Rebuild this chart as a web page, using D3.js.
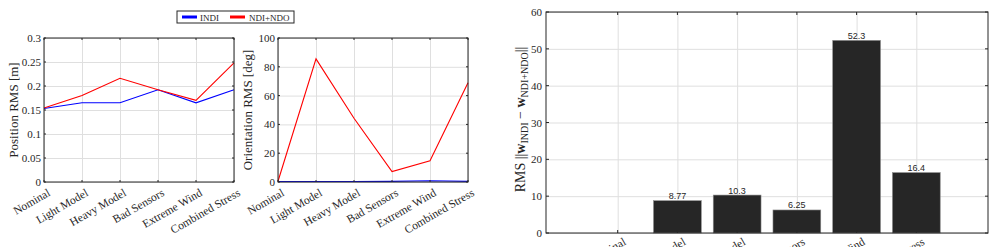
<!DOCTYPE html>
<html>
<head>
<meta charset="utf-8">
<script src="https://cdn.jsdelivr.net/npm/d3@7"></script>
<style>
  body { margin: 0; background: #fff; }
  svg text { font-family: "Liberation Serif", "DejaVu Serif", serif; fill: #262626; }
  .grid line { stroke: #dfdfdf; stroke-width: 1; }
  .grid path { display: none; }
  .frame { fill: none; stroke: #262626; stroke-width: 1; }
  .tick-m { stroke: #262626; stroke-width: 1; }
</style>
</head>
<body>
<div id="chart"></div>
<script>
// scenarios
var categories = ["Nominal", "Light Model", "Heavy Model", "Bad Sensors", "Extreme Wind", "Combined Stress"];

// position RMS [m]
var pos_indi = [0.153, 0.165, 0.165, 0.192, 0.165, 0.192];
var pos_ndi = [0.154, 0.180, 0.216, 0.192, 0.170, 0.248];
var pos_ticks = [0, 0.05, 0.1, 0.15, 0.2, 0.25, 0.3];

// orientation RMS [deg]
var ori_indi = [0.3, 0.3, 0.3, 0.4, 0.9, 0.4];
var ori_ndi = [0.5, 85.5, 44.3, 7.2, 14.8, 69.0];
var ori_ticks = [0, 20, 40, 60, 80, 100];

// RMS of command difference
var diff_vals = [0, 8.77, 10.3, 6.25, 52.3, 16.4];
var diff_labels = ["", "8.77", "10.3", "6.25", "52.3", "16.4"];
var diff_ticks = [0, 10, 20, 30, 40, 50, 60];

var W = 995, H = 247;
var svg = d3.select("#chart").append("svg")
  .attr("width", W).attr("height", H);

function line_panel(box, yMax, ticks, tickFmt, s1, s2, ylabel, ylabelX) {
  var x = d3.scalePoint().domain(categories).range([box.left, box.right]);
  var y = d3.scaleLinear().domain([0, yMax]).range([box.bottom, box.top]);
  var g = svg.append("g");
  var h = box.bottom - box.top, w = box.right - box.left;

  // grid
  g.append("g").attr("class", "grid")
    .attr("transform", "translate(0," + box.bottom + ")")
    .call(d3.axisBottom(x).tickSize(-h).tickFormat(""));
  g.append("g").attr("class", "grid")
    .attr("transform", "translate(" + box.left + ",0)")
    .call(d3.axisLeft(y).tickValues(ticks).tickSize(-w).tickFormat(""));

  // lines
  var ln = d3.line().x(function(d, i) { return x(categories[i]); }).y(function(d) { return y(d); });
  g.append("path").datum(s1).attr("d", ln)
    .attr("fill", "none").attr("stroke", "#0000ff").attr("stroke-width", 1.1);
  g.append("path").datum(s2).attr("d", ln)
    .attr("fill", "none").attr("stroke", "#ff0000").attr("stroke-width", 1.1);

  // frame + inward ticks
  g.append("rect").attr("class", "frame")
    .attr("x", box.left).attr("y", box.top).attr("width", w).attr("height", h);
  ticks.forEach(function(t) {
    g.append("line").attr("class", "tick-m")
      .attr("x1", box.left).attr("x2", box.left + 2).attr("y1", y(t)).attr("y2", y(t));
    g.append("line").attr("class", "tick-m")
      .attr("x1", box.right).attr("x2", box.right - 2).attr("y1", y(t)).attr("y2", y(t));
    g.append("text").attr("x", box.left - 3).attr("y", y(t) + 4)
      .attr("text-anchor", "end").attr("font-size", 11).text(tickFmt(t));
  });
  categories.forEach(function(c) {
    g.append("line").attr("class", "tick-m")
      .attr("x1", x(c)).attr("x2", x(c)).attr("y1", box.bottom).attr("y2", box.bottom - 2);
    g.append("line").attr("class", "tick-m")
      .attr("x1", x(c)).attr("x2", x(c)).attr("y1", box.top).attr("y2", box.top + 2);
    g.append("text")
      .attr("transform", "translate(" + (x(c) + 3) + "," + (box.bottom + 6) + ") rotate(-30)")
      .attr("text-anchor", "end").attr("dy", "0.7em").attr("font-size", 11.5).text(c);
  });

  g.append("text")
    .attr("transform", "translate(" + ylabelX + "," + ((box.top + box.bottom) / 2) + ") rotate(-90)")
    .attr("text-anchor", "middle").attr("font-size", 13).text(ylabel);
}

line_panel({left: 44, right: 234, top: 38, bottom: 182}, 0.3, pos_ticks,
  function(t) { return t === 0 ? "0" : String(t); }, pos_indi, pos_ndi, "Position RMS [m]", 18);
line_panel({left: 278, right: 468, top: 38, bottom: 182}, 100, ori_ticks,
  function(t) { return String(t); }, ori_indi, ori_ndi, "Orientation RMS [deg]", 252);

// legend
var lg = svg.append("g");
lg.append("rect").attr("x", 177).attr("y", 11).attr("width", 117).attr("height", 12)
  .attr("fill", "#fff").attr("stroke", "#262626").attr("stroke-width", 1);
lg.append("line").attr("x1", 182).attr("x2", 197).attr("y1", 17).attr("y2", 17)
  .attr("stroke", "#0000ff").attr("stroke-width", 3);
lg.append("text").attr("x", 200).attr("y", 20.5).attr("font-size", 9).text("INDI");
lg.append("line").attr("x1", 230).attr("x2", 245).attr("y1", 17).attr("y2", 17)
  .attr("stroke", "#ff0000").attr("stroke-width", 3);
lg.append("text").attr("x", 249).attr("y", 20.5).attr("font-size", 9).text("NDI+NDO");

// bar panel
var bb = {left: 546, right: 988, top: 12, bottom: 233};
var bx = d3.scaleLinear().domain([-0.2, 7.2]).range([bb.left, bb.right]);
var by = d3.scaleLinear().domain([0, 60]).range([bb.bottom, bb.top]);
var idx = categories.map(function(d, i) { return i + 1; });
var gb = svg.append("g");
gb.append("g").attr("class", "grid")
  .attr("transform", "translate(0," + bb.bottom + ")")
  .call(d3.axisBottom(bx).tickValues(idx).tickSize(-(bb.bottom - bb.top)).tickFormat(""));
gb.append("g").attr("class", "grid")
  .attr("transform", "translate(" + bb.left + ",0)")
  .call(d3.axisLeft(by).tickValues(diff_ticks).tickSize(-(bb.right - bb.left)).tickFormat(""));

var barW = bx(0.8) - bx(0);
gb.selectAll(".bar").data(diff_vals).enter().append("rect")
  .attr("class", "bar")
  .attr("x", function(d, i) { return bx(i + 1) - barW / 2; })
  .attr("y", function(d) { return by(d); })
  .attr("width", barW)
  .attr("height", function(d) { return by(0) - by(d); })
  .attr("fill", "#262626").attr("stroke", "#8c8c8c").attr("stroke-width", 0.6)
  .style("display", function(d) { return d > 0 ? null : "none"; });
gb.selectAll(".blab").data(diff_vals).enter().append("text")
  .attr("x", function(d, i) { return bx(i + 1); })
  .attr("y", function(d) { return by(d) - 1.5; })
  .attr("text-anchor", "middle").attr("font-size", 9)
  .style("font-family", "'Liberation Sans', Arial, sans-serif")
  .text(function(d, i) { return diff_labels[i]; });

gb.append("rect").attr("class", "frame")
  .attr("x", bb.left).attr("y", bb.top).attr("width", bb.right - bb.left).attr("height", bb.bottom - bb.top);
diff_ticks.forEach(function(t) {
  gb.append("line").attr("class", "tick-m")
    .attr("x1", bb.left).attr("x2", bb.left + 3).attr("y1", by(t)).attr("y2", by(t));
  gb.append("line").attr("class", "tick-m")
    .attr("x1", bb.right).attr("x2", bb.right - 3).attr("y1", by(t)).attr("y2", by(t));
  gb.append("text").attr("x", bb.left - 4).attr("y", by(t) + 4)
    .attr("text-anchor", "end").attr("font-size", 11).text(t);
});
// category labels run past the bottom edge, as in the original
idx.forEach(function(k, i) {
  gb.append("line").attr("class", "tick-m")
    .attr("x1", bx(k)).attr("x2", bx(k)).attr("y1", bb.bottom).attr("y2", bb.bottom - 3);
  gb.append("line").attr("class", "tick-m")
    .attr("x1", bx(k)).attr("x2", bx(k)).attr("y1", bb.top).attr("y2", bb.top + 3);
  gb.append("text")
    .attr("transform", "translate(" + (bx(k) + 5) + "," + (bb.bottom + 4) + ") rotate(-30)")
    .attr("text-anchor", "end").attr("dy", "0.7em").attr("font-size", 11.5).text(categories[i]);
});

// y label with subscripts
var yl = gb.append("text")
  .attr("transform", "translate(525," + ((bb.top + bb.bottom) / 2 - 3) + ") rotate(-90)")
  .attr("text-anchor", "middle").attr("font-size", 14);
yl.append("tspan").text("RMS ||");
yl.append("tspan").attr("font-weight", "bold").text("w");
yl.append("tspan").attr("font-size", 10).attr("dy", 3).text("INDI");
yl.append("tspan").attr("dy", -3).text(" \u2212 ");
yl.append("tspan").attr("font-weight", "bold").text("w");
yl.append("tspan").attr("font-size", 10).attr("dy", 3).text("NDI+NDO");
yl.append("tspan").attr("dy", -3).text("||");
</script>
</body>
</html>
